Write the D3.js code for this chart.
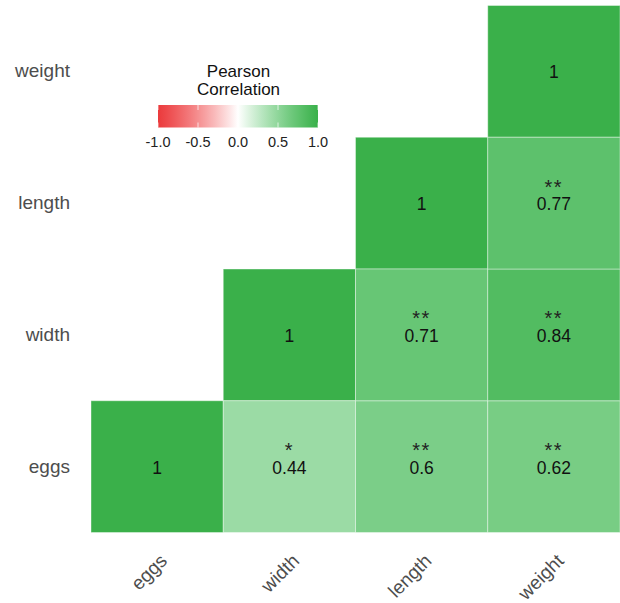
<!DOCTYPE html>
<html>
<head>
<meta charset="utf-8">
<script src="https://cdn.jsdelivr.net/npm/d3@7"></script>
<style>
  html, body { margin: 0; padding: 0; background: #fff; }
  svg { display: block; font-family: Arial, "Liberation Sans", sans-serif; }
</style>
</head>
<body>
<svg id="chart" width="620" height="603"></svg>
<script>
// Variables, in axis order
const variables = ["eggs", "width", "length", "weight"];

// Upper-triangle pairs: correlation and significance stars
const pairFrom  = ["eggs", "eggs", "eggs", "width", "width", "length"];
const pairTo    = ["width", "length", "weight", "length", "weight", "weight"];
const pairR     = [0.44, 0.6, 0.62, 0.71, 0.84, 0.77];
const pairStars = ["*", "**", "**", "**", "**", "**"];

// Colour bar ticks
const legendTicks = [-1.0, -0.5, 0.0, 0.5, 1.0];

// Build cells: diagonal (r = 1) plus the pairs
const cells = variables.map(v => ({ col: v, row: v, r: 1, stars: "" }))
  .concat(pairFrom.map((f, i) => ({ col: pairTo[i], row: f, r: pairR[i], stars: pairStars[i] })));

const svg = d3.select("#chart");
const plotLeft = 91, plotRight = 620, plotTop = 5.5, plotBottom = 532.5;

const x = d3.scaleBand().domain(variables).range([plotLeft, plotRight]);
const y = d3.scaleBand().domain(variables.slice().reverse()).range([plotTop, plotBottom]);

const color = d3.scaleLinear()
  .domain([-1, 0, 1])
  .range(["#EB3A3C", "#FFFFFF", "#3AB04A"])
  .interpolate(d3.interpolateRgb.gamma(0.6));

// Tiles
const g = svg.append("g");
g.selectAll("rect.cell").data(cells).join("rect")
  .attr("class", "cell")
  .attr("x", d => x(d.col))
  .attr("y", d => y(d.row))
  .attr("width", x.bandwidth())
  .attr("height", y.bandwidth())
  .attr("fill", d => color(d.r))
  .attr("stroke", "#ffffff")
  .attr("stroke-opacity", 0.4)
  .attr("stroke-width", 1);

// Values
g.selectAll("text.val").data(cells).join("text")
  .attr("class", "val")
  .attr("x", d => x(d.col) + x.bandwidth() / 2)
  .attr("y", d => y(d.row) + y.bandwidth() / 2 + 7)
  .attr("text-anchor", "middle")
  .attr("font-size", 17.5)
  .attr("fill", "#111")
  .text(d => d3.format("")(d.r));

// Significance stars
g.selectAll("text.star").data(cells.filter(d => d.stars)).join("text")
  .attr("class", "star")
  .attr("x", d => x(d.col) + x.bandwidth() / 2)
  .attr("y", d => y(d.row) + y.bandwidth() / 2 - 9.5)
  .attr("text-anchor", "middle")
  .attr("font-size", 20)
  .attr("letter-spacing", 1.5)
  .attr("fill", "#222")
  .text(d => d.stars);

// Y axis labels
svg.append("g").selectAll("text").data(variables).join("text")
  .attr("x", 70)
  .attr("y", d => y(d) + y.bandwidth() / 2 + 6)
  .attr("text-anchor", "end")
  .attr("font-size", 19)
  .attr("fill", "#4D4D4D")
  .text(d => d);

// X axis labels, rotated 45°
svg.append("g").selectAll("text").data(variables).join("text")
  .attr("transform", d => `translate(${x(d) + x.bandwidth() / 2 + 1},${552}) rotate(-45)`)
  .attr("text-anchor", "end")
  .attr("dy", "0.75em")
  .attr("font-size", 19)
  .attr("fill", "#4D4D4D")
  .text(d => d);

// Legend
const lg = svg.append("g");
lg.append("text").attr("x", 238.5).attr("y", 77).attr("text-anchor", "middle")
  .attr("font-size", 17).attr("fill", "#111").text("Pearson");
lg.append("text").attr("x", 238.5).attr("y", 95).attr("text-anchor", "middle")
  .attr("font-size", 17).attr("fill", "#111").text("Correlation");

const lx = d3.scaleLinear().domain([-1, 1]).range([158, 318]);
const defs = svg.append("defs");
const grad = defs.append("linearGradient").attr("id", "corrGrad");
d3.range(-1, 1.0001, 0.05).forEach(v => {
  grad.append("stop").attr("offset", (v + 1) / 2).attr("stop-color", color(v));
});
lg.append("rect").attr("x", lx(-1)).attr("y", 105).attr("width", lx(1) - lx(-1)).attr("height", 22.5)
  .attr("fill", "url(#corrGrad)");
lg.selectAll("g.tk").data(legendTicks).join("g").attr("class", "tk").each(function(v) {
  const s = d3.select(this);
  s.append("line").attr("x1", lx(v)).attr("x2", lx(v)).attr("y1", 105).attr("y2", 110)
    .attr("stroke", "#fff").attr("stroke-opacity", 0.7).attr("stroke-width", 1);
  s.append("line").attr("x1", lx(v)).attr("x2", lx(v)).attr("y1", 122.5).attr("y2", 127.5)
    .attr("stroke", "#fff").attr("stroke-opacity", 0.7).attr("stroke-width", 1);
});
lg.selectAll("text.tl").data(legendTicks).join("text")
  .attr("class", "tl")
  .attr("x", v => lx(v))
  .attr("y", 147)
  .attr("text-anchor", "middle")
  .attr("font-size", 14.5)
  .attr("fill", "#222")
  .text(v => d3.format(".1f")(v).replace("−", "-"));
</script>
</body>
</html>
